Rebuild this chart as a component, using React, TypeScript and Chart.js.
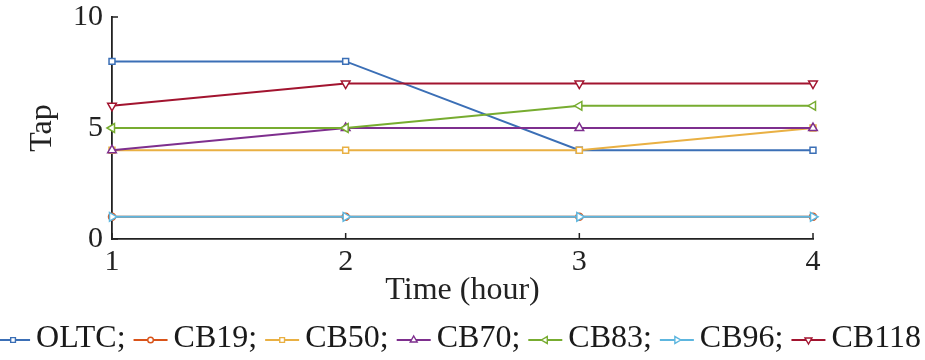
import React, { useEffect, useRef } from 'react';
import { Chart, registerables } from 'chart.js';
import { drawPoint } from 'chart.js/helpers';

Chart.register(...registerables);

// ---- data ----
const hours = ['1', '2', '3', '4'];
const seriesNames = ['OLTC', 'CB19', 'CB50', 'CB70', 'CB83', 'CB96', 'CB118'];
const oltc = [8, 8, 4, 4];
const cb19 = [1, 1, 1, 1];
const cb50 = [4, 4, 4, 5];
const cb70 = [4, 5, 5, 5];
const cb83 = [5, 5, 6, 6];
const cb96 = [1, 1, 1, 1];
const cb118 = [6, 7, 7, 7];
const seriesValues = [oltc, cb19, cb50, cb70, cb83, cb96, cb118];
const yTickValues = [0, 5, 10];
const xTitle = 'Time (hour)';
const yTitle = 'Tap';

// ---- styles ----
const colors = ['#3b6fb6', '#d95319', '#e9b043', '#7e2f8e', '#77ac30', '#5db6df', '#a2142f'];
const markerStyles = ['rect', 'circle', 'rect', 'triangle', 'triangle', 'triangle', 'triangle'];
const markerRotations = [0, 0, 0, 0, -90, 90, 180];
const markerRadius = [4.2, 3.5, 4.2, 5, 5, 5, 5];
const FONT = "'Liberation Serif', 'Times New Roman', serif";
const AXIS = '#222222';

const inwardTicks = {
  id: 'inwardTicks',
  beforeDatasetsDraw(chart: any) {
    const { ctx, chartArea, scales } = chart;
    const xs = scales.x;
    const ys = scales.y;
    ctx.save();
    ctx.strokeStyle = AXIS;
    ctx.lineWidth = 1.5;
    ctx.beginPath();
    xs.ticks.forEach((_t: any, i: number) => {
      const px = xs.getPixelForTick(i);
      ctx.moveTo(px, chartArea.bottom);
      ctx.lineTo(px, chartArea.bottom - 6);
    });
    ys.ticks.forEach((_t: any, i: number) => {
      const py = ys.getPixelForTick(i);
      ctx.moveTo(chartArea.left, py);
      ctx.lineTo(chartArea.left + 6, py);
    });
    ctx.stroke();
    ctx.restore();
  },
};

const lineLegend = {
  id: 'lineLegend',
  afterDraw(chart: any) {
    const ctx = chart.ctx;
    const datasets = chart.data.datasets;
    const n = datasets.length;
    ctx.save();
    ctx.font = `32px ${FONT}`;
    const markW = 34;
    const gapA = 6;
    const gapB = 8;
    const items = datasets.map((ds: any, i: number) => {
      const text = ds.label + (i < n - 1 ? ';' : '');
      return { ds, text, w: ctx.measureText(text).width };
    });
    let total = 0;
    items.forEach((it: any, i: number) => {
      total += markW + gapA + it.w + (i < n - 1 ? gapB : 0);
    });
    let x = (chart.width - total) / 2 - 4;
    const y = 340;
    items.forEach((it: any) => {
      const ds = it.ds;
      ctx.strokeStyle = ds.borderColor;
      ctx.lineWidth = 1.8;
      ctx.beginPath();
      ctx.moveTo(x, y);
      ctx.lineTo(x + markW, y);
      ctx.stroke();
      ctx.fillStyle = '#ffffff';
      ctx.lineWidth = 1.4;
      drawPoint(ctx, {
        pointStyle: ds.pointStyle,
        rotation: ds.pointRotation,
        radius: ds.pointRadius * 0.8,
        borderWidth: 1.4,
      } as any, x + markW / 2, y);
      ctx.fillStyle = '#1a1a1a';
      ctx.textAlign = 'left';
      ctx.textBaseline = 'middle';
      ctx.fillText(it.text, x + markW + gapA, y - 1);
      x += markW + gapA + it.w + gapB;
    });
    ctx.restore();
  },
};

export default function App() {
  const ref = useRef<HTMLCanvasElement | null>(null);

  useEffect(() => {
    document.body.style.margin = '0';
    const canvas = ref.current;
    if (!canvas) return;
    const datasets = seriesNames.map((name, i) => ({
      label: name,
      data: seriesValues[i],
      borderColor: colors[i],
      backgroundColor: colors[i],
      borderWidth: 2,
      pointStyle: markerStyles[i],
      pointRotation: markerRotations[i],
      pointRadius: markerRadius[i],
      pointBackgroundColor: '#ffffff',
      pointBorderColor: colors[i],
      pointBorderWidth: 1.5,
      tension: 0,
      fill: false,
      order: -i,
      clip: false as any,
    }));
    const chart = new Chart(canvas, {
      type: 'line',
      data: { labels: hours, datasets },
      plugins: [inwardTicks, lineLegend],
      options: {
        responsive: false,
        animation: false,
        layout: { padding: { top: 17, right: 112, bottom: 50, left: 0 } },
        plugins: {
          legend: { display: false },
          tooltip: { enabled: false },
        },
        scales: {
          x: {
            type: 'category',
            offset: false,
            grid: { display: false, drawTicks: false },
            border: { display: true, color: AXIS, width: 1.8 },
            ticks: {
              color: AXIS,
              padding: 5,
              maxRotation: 0,
              font: { family: FONT, size: 30, lineHeight: 1.2 },
            },
            title: {
              display: true,
              text: xTitle,
              color: AXIS,
              padding: { top: 0, bottom: 0 },
              font: { family: FONT, size: 32, lineHeight: 1.2 },
            },
            afterFit: (s: any) => {
              s.height = 71;
              s.paddingLeft = 0;
              s.paddingRight = 0;
            },
          },
          y: {
            min: 0,
            max: 10,
            grid: { display: false, drawTicks: false },
            border: { display: true, color: AXIS, width: 1.8 },
            afterBuildTicks: (s: any) => {
              s.ticks = yTickValues.map((v) => ({ value: v }));
            },
            ticks: {
              color: AXIS,
              padding: 9,
              font: { family: FONT, size: 30, lineHeight: 1.2 },
            },
            title: {
              display: true,
              text: yTitle,
              color: AXIS,
              padding: { top: 23, bottom: 0 },
              font: { family: FONT, size: 32, lineHeight: 1.2 },
            },
            afterFit: (s: any) => {
              s.width = 112;
              s.paddingTop = 0;
              s.paddingBottom = 0;
            },
          },
        },
      },
    });
    return () => chart.destroy();
  }, []);

  return (
    <div style={{ width: 925, height: 360, overflow: 'hidden', background: '#ffffff' }}>
      <canvas ref={ref} width={925} height={360} style={{ display: 'block' }} />
    </div>
  );
}
